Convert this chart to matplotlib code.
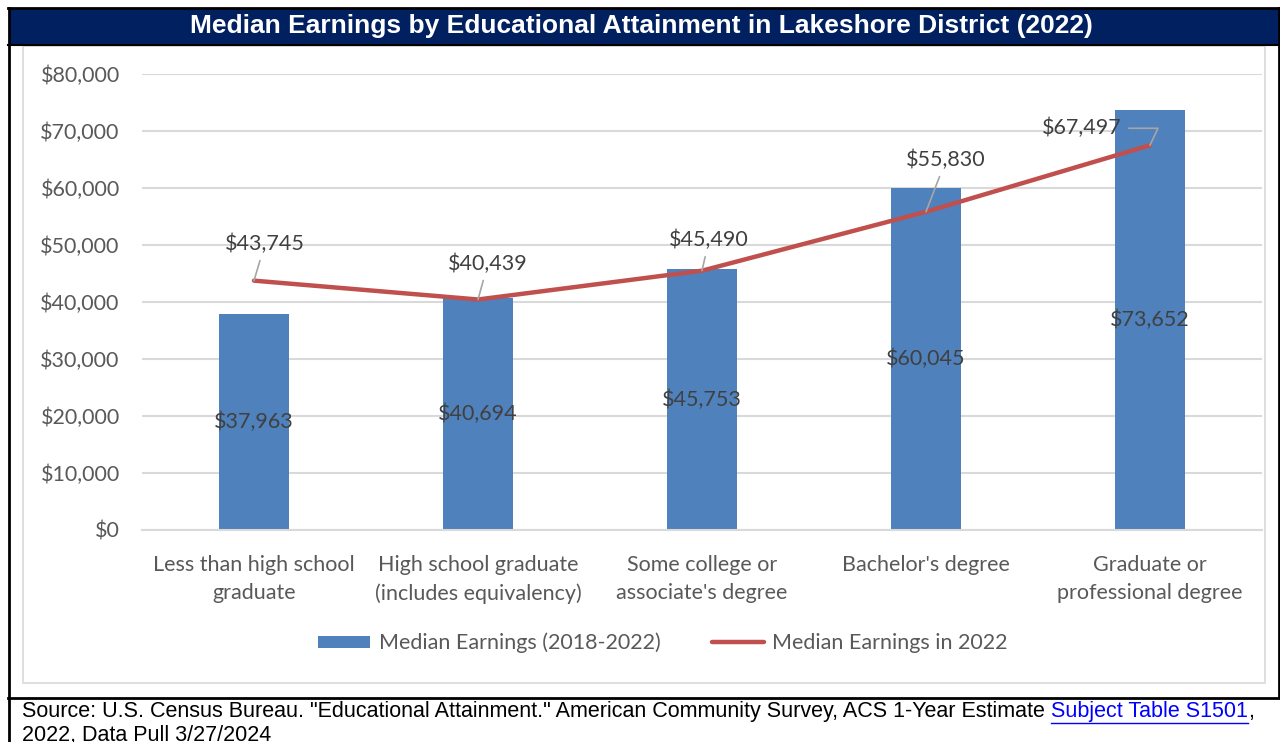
import matplotlib.pyplot as plt
from matplotlib.patches import Rectangle
from matplotlib.lines import Line2D
from matplotlib.ticker import FuncFormatter

# data
categories = ["Less than high school\ngraduate",
              "High school graduate\n(includes equivalency)",
              "Some college or\nassociate's degree",
              "Bachelor's degree",
              "Graduate or\nprofessional degree"]
earnings_5yr = [37963, 40694, 45753, 60045, 73652]
earnings_2022 = [43745, 40439, 45490, 55830, 67497]
yticks = [0, 10000, 20000, 30000, 40000, 50000, 60000, 70000, 80000]

# label offsets (pixels) for the 2022 line labels
line_label_offsets = [(11, 37), (10, 36), (7, 31), (20, 52), (-68, 17)]

W, H = 1280, 742
BLUE = "#4f81bd"
RED = "#c0504d"
GREY_TXT = "#595959"
GRID = "#d9d9d9"
NAVY = "#002060"
FONT = "Lato"
ARIAL = "Liberation Sans"

fig = plt.figure(figsize=(W / 100, H / 100), dpi=100)


def fx(x):
    return x / W


def fy(y):
    return 1 - y / H


def box(x0, y0, x1, y1, **kw):
    fig.add_artist(Rectangle((fx(x0), fy(y1)), fx(x1) - fx(x0), fy(y0) - fy(y1),
                             transform=fig.transFigure, **kw))


def hline(x0, x1, y, **kw):
    fig.add_artist(Line2D([fx(x0), fx(x1)], [fy(y), fy(y)], transform=fig.transFigure, **kw))


def vline(x, y0, y1, **kw):
    fig.add_artist(Line2D([fx(x), fx(x)], [fy(y0), fy(y1)], transform=fig.transFigure, **kw))


# title banner and outer frame
box(9, 9, 1280, 44, facecolor=NAVY, edgecolor="none")
fig.text(fx(641), fy(26), "Median Earnings by Educational Attainment in Lakeshore District (2022)",
         ha="center", va="center", color="white", fontsize=19, fontweight="bold", family=ARIAL)
hline(8, 1280, 8, color="black", lw=2)
hline(8, 1280, 44.5, color="black", lw=1.5)
vline(8.5, 8, 742, color="black", lw=2)
vline(1278.5, 8, 697, color="black", lw=2)
hline(8, 1280, 697.5, color="black", lw=2)

# inner chart frame
box(23, 46, 1265, 683, facecolor="none", edgecolor=GRID, lw=1.2)

# plot area
ax = fig.add_axes([fx(142), fy(530), fx(1262) - fx(142), fy(74) - fy(530)])
x = list(range(len(categories)))
bars = ax.bar(x, earnings_5yr, width=0.315, color=BLUE, zorder=2)
line, = ax.plot(x, earnings_2022, color=RED, lw=3.2, solid_capstyle="round", zorder=3)

ax.set_xlim(-0.5, len(categories) - 0.5)
ax.set_ylim(0, 80000)
ax.set_yticks(yticks)
ax.yaxis.set_major_formatter(FuncFormatter(lambda v, p: f"${v:,.0f}"))
ax.set_xticks(x)
ax.set_xticklabels(categories, linespacing=1.5)
ax.tick_params(axis="both", length=0, labelsize=15.5, labelcolor=GREY_TXT)
ax.tick_params(axis="y", pad=16)
ax.tick_params(axis="x", pad=18)
for lab in ax.get_xticklabels() + ax.get_yticklabels():
    lab.set_family(FONT)
ax.grid(axis="y", color=GRID, lw=1.5, zorder=0)
for s in ["top", "right", "left"]:
    ax.spines[s].set_visible(False)
ax.spines["bottom"].set_color(GRID)
ax.spines["bottom"].set_linewidth(1.5)

# bar value labels in the middle of each bar
for xi, v in zip(x, earnings_5yr):
    ax.text(xi, v / 2, f"${v:,}", ha="center", va="center", fontsize=15.5,
            color="#404040", family=FONT, zorder=4)

# line value labels with leader lines
for i, (xi, v) in enumerate(zip(x, earnings_2022)):
    dx, dy = line_label_offsets[i]
    style = "arc3"
    if i == len(x) - 1:
        style = "angle,angleA=0,angleB=65,rad=0"
    ax.annotate(f"${v:,}", xy=(xi, v), xytext=(dx, dy), textcoords="offset pixels",
                ha="center", va="center", fontsize=15.5, color="#404040", family=FONT,
                zorder=4,
                arrowprops=dict(arrowstyle="-", color="#a6a6a6", lw=1.2,
                                connectionstyle=style, shrinkA=3, shrinkB=0))

ax.legend([bars, line], ["Median Earnings (2018-2022)", "Median Earnings in 2022"],
          loc="center", bbox_to_anchor=(fx(663), fy(643)), bbox_transform=fig.transFigure,
          ncol=2, frameon=False, prop={"family": FONT, "size": 15.5}, labelcolor=GREY_TXT,
          handlelength=2.4, handleheight=0.5, handletextpad=0.4, columnspacing=2.4)

# source note with link text
fig.canvas.draw()
renderer = fig.canvas.get_renderer()
parts = [
    ("Source: U.S. Census Bureau. \"Educational Attainment.\" American Community Survey, ACS 1-Year Estimate ", "black"),
    ("Subject Table S1501", "#0000ff"),
    (",", "black"),
]
cx = fx(22)
for txt, col in parts:
    t = fig.text(cx, fy(712), txt, ha="left", va="center", fontsize=15.5, color=col, family=ARIAL)
    bb = t.get_window_extent(renderer).transformed(fig.transFigure.inverted())
    if col != "black":
        fig.add_artist(Line2D([bb.x0, bb.x1], [fy(723), fy(723)], transform=fig.transFigure,
                              color=col, lw=1))
    cx = bb.x1
fig.text(fx(22), fy(735), "2022, Data Pull 3/27/2024", ha="left", va="center", fontsize=15.5,
         color="black", family=ARIAL)

fig.savefig("out.png", dpi=100)
